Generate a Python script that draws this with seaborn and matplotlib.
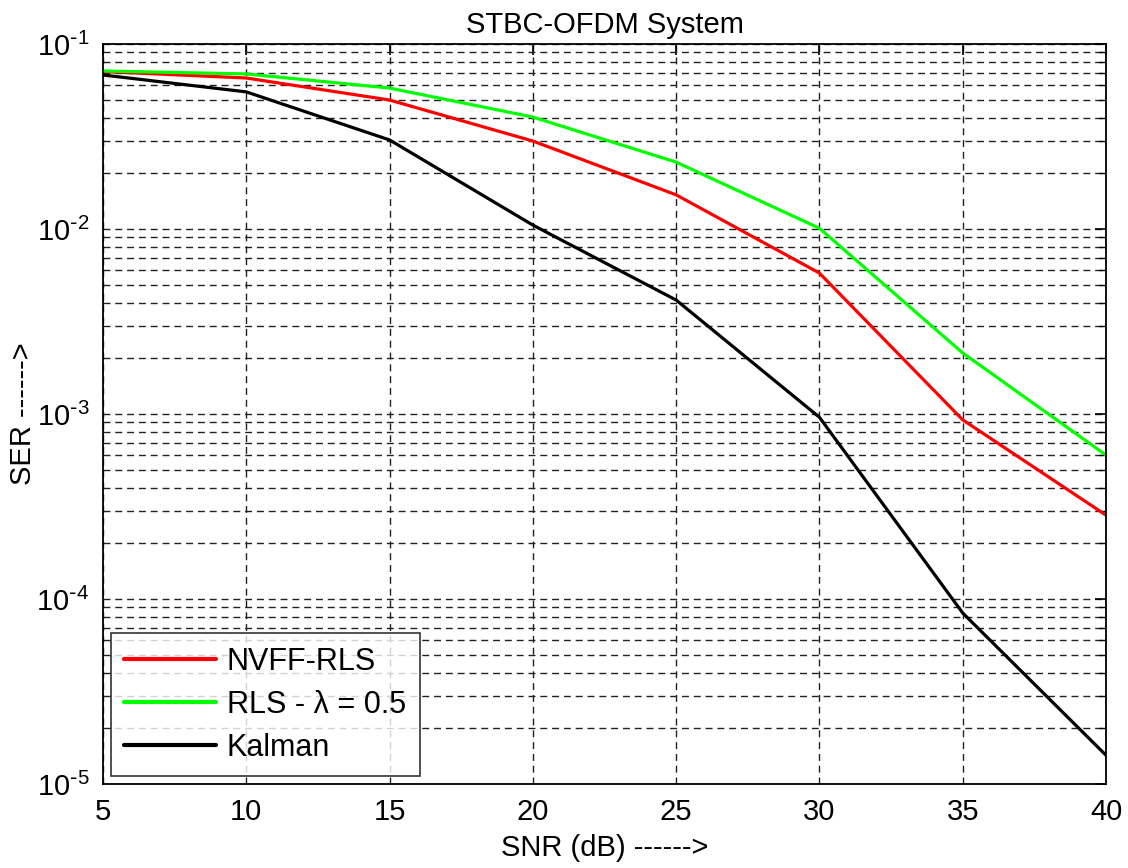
import numpy as np
import pandas as pd
import seaborn as sns
import matplotlib
matplotlib.use("Agg")
import matplotlib.pyplot as plt
from matplotlib.ticker import LogLocator, FixedLocator, NullFormatter

snr = [5, 10, 15, 20, 25, 30, 35, 40]
ser_nvff = [0.071, 0.0655, 0.0498, 0.0299, 0.0153, 0.00578, 0.00093, 0.000284]
ser_rls = [0.0715, 0.0689, 0.0578, 0.0403, 0.0230, 0.0101, 0.00214, 0.00060]
ser_kalman = [0.068, 0.0551, 0.0303, 0.0105, 0.00413, 0.00096, 0.000084, 0.0000143]
labels = ["NVFF-RLS", "RLS - \u03bb = 0.5", "Kalman"]
colors = ["#ff0000", "#00ff00", "#000000"]
ytick_vals = [1e-5, 1e-4, 1e-3, 1e-2, 1e-1]
ytick_labels = ["10$^{\\text{-}5}$", "10$^{\\text{-}4}$", "10$^{\\text{-}3}$",
                "10$^{\\text{-}2}$", "10$^{\\text{-}1}$"]

df = pd.concat([
    pd.DataFrame({"SNR": snr, "SER": ser_nvff, "Method": labels[0]}),
    pd.DataFrame({"SNR": snr, "SER": ser_rls, "Method": labels[1]}),
    pd.DataFrame({"SNR": snr, "SER": ser_kalman, "Method": labels[2]}),
])

sns.set_style("white")
plt.rcParams["font.family"] = ["Liberation Sans", "DejaVu Sans"]
plt.rcParams["mathtext.default"] = "regular"
plt.rcParams["text.color"] = "black"
plt.rcParams["axes.labelcolor"] = "black"

fig = plt.figure(figsize=(11.28, 8.68), dpi=100)
ax = fig.add_axes([0.0913, 0.0968, 0.8892, 0.8525])

sns.lineplot(data=df, x="SNR", y="SER", hue="Method", palette=colors,
             hue_order=labels, linewidth=2.3, ax=ax, legend=True)
ax.set_yscale("log")
ax.set_xlim(5, 40)
ax.set_ylim(1e-5, 1e-1)

ax.xaxis.set_major_locator(FixedLocator(snr))
ax.set_xticklabels([str(v) for v in snr])
ax.yaxis.set_minor_locator(LogLocator(base=10, subs=np.arange(2, 10), numticks=20))
ax.yaxis.set_minor_formatter(NullFormatter())
ax.set_yticks(ytick_vals)
ax.set_yticklabels(ytick_labels)

grid_kw = dict(color="#222222", linestyle=(0, (5, 3.5)), linewidth=1.0)
ax.grid(True, which="major", axis="both", **grid_kw)
ax.grid(True, which="minor", axis="y", **grid_kw)

ax.tick_params(axis="both", which="both", direction="in", top=True, right=True,
               labelsize=21, colors="black")
ax.tick_params(axis="both", which="major", length=8, width=1.2, pad=10)
ax.tick_params(axis="y", which="minor", length=5, width=1.0)
for s in ax.spines.values():
    s.set_visible(True)
    s.set_color("black")
    s.set_linewidth(1.3)

ax.set_title("STBC-OFDM System", fontsize=21, pad=8, color="black")
ax.set_xlabel("SNR (dB) ------>", fontsize=21, labelpad=6)
ax.set_ylabel("SER ------>", fontsize=21)
ax.yaxis.set_label_coords(-0.066, 0.5)

leg = ax.legend(loc="lower left", fontsize=22, frameon=True, fancybox=False,
                edgecolor="black", handlelength=3.0, handletextpad=0.35,
                borderaxespad=0.25, labelspacing=0.42, borderpad=0.45)
leg.get_frame().set_linewidth(1.2)
for t in leg.get_texts():
    t.set_color("black")
for line in leg.get_lines():
    line.set_linewidth(3)

fig.savefig("out.png", dpi=100, facecolor="white")
